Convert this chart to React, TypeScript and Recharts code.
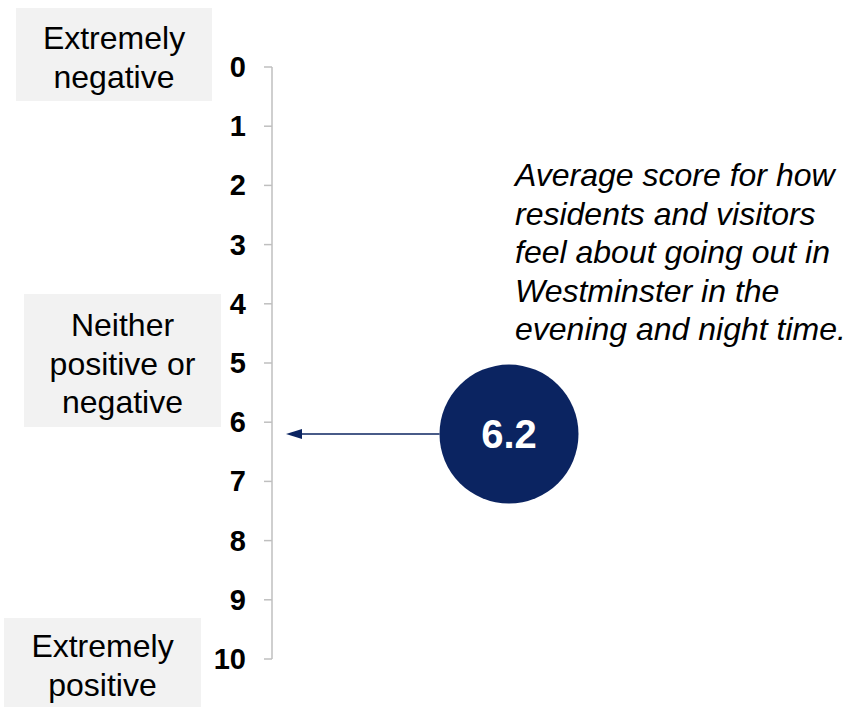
import { ComposedChart, Scatter, XAxis, YAxis } from 'recharts'

const SCALE_TICKS = [0, 1, 2, 3, 4, 5, 6, 7, 8, 9, 10]
const ANCHOR_VALUES = [0, 5, 10]
const ANCHOR_LINES = [
  ['Extremely', 'negative'],
  ['Neither', 'positive or', 'negative'],
  ['Extremely', 'positive'],
]
const SCORE_NAMES = ['Average score']
const SCORE_VALUES = [6.2]
const NOTE_LINES = [
  'Average score for how',
  'residents and visitors',
  'feel about going out in',
  'Westminster in the',
  'evening and night time.',
]

const FONT = '"Liberation Sans", Arial, Helvetica, sans-serif'
const NAVY = '#0B2461'
const GREY = '#BFBFBF'
const AXIS_W = 272

// box layout for the anchor labels, relative to the tick label x / tick y
const BOXES = [
  { dx: -230, w: 196, dy: -59, h: 93 },
  { dx: -222, w: 197, dy: -69, h: 133 },
  { dx: -242, w: 197, dy: -41, h: 89 },
]

const scoreData = SCORE_NAMES.map((name, i) => ({ name, score: SCORE_VALUES[i] }))

const ScaleTick = (props: any) => {
  const { x, y, payload } = props
  const idx = ANCHOR_VALUES.indexOf(payload.value)
  let anchor = null
  if (idx >= 0) {
    const b = BOXES[idx]
    const lines = ANCHOR_LINES[idx]
    const cx = x + b.dx + b.w / 2
    const cy = y + b.dy + b.h / 2 + 3
    anchor = (
      <g>
        <rect x={x + b.dx} y={y + b.dy} width={b.w} height={b.h} fill="#F2F2F2" />
        {lines.map((ln, i) => (
          <text
            key={i}
            x={cx}
            y={cy + (i - (lines.length - 1) / 2) * 38.4}
            textAnchor="middle"
            dominantBaseline="central"
            fontFamily={FONT}
            fontSize={32}
            fill="#000"
          >
            {ln}
          </text>
        ))}
      </g>
    )
  }
  return (
    <g>
      {anchor}
      <text
        x={x}
        y={y}
        textAnchor="end"
        dominantBaseline="central"
        fontFamily={FONT}
        fontSize={29}
        fontWeight="bold"
        fill="#000"
      >
        {payload.value}
      </text>
    </g>
  )
}

const ScoreBubble = (props: any) => {
  const { cx, cy, payload } = props
  const r = 69.5
  const tip = AXIS_W + 14
  return (
    <g>
      <line x1={cx - r} y1={cy} x2={tip + 12} y2={cy} stroke={NAVY} strokeWidth={1.5} />
      <path d={`M${tip},${cy} L${tip + 16},${cy - 5} L${tip + 16},${cy + 5} Z`} fill={NAVY} />
      <circle cx={cx} cy={cy} r={r} fill={NAVY} />
      <text
        x={cx}
        y={cy}
        textAnchor="middle"
        dominantBaseline="central"
        fontFamily={FONT}
        fontSize={40}
        fontWeight="bold"
        fill="#fff"
      >
        {payload.score}
      </text>
    </g>
  )
}

export default function App() {
  return (
    <div style={{ position: 'absolute', left: 0, top: 0, width: 849, height: 707, background: '#fff' }}>
      <ComposedChart
        width={849}
        height={707}
        data={scoreData}
        margin={{ top: 67, right: 103, bottom: 48, left: 0 }}
      >
        <XAxis dataKey="name" type="category" hide />
        <YAxis
          type="number"
          domain={[0, 10]}
          reversed
          ticks={SCALE_TICKS}
          interval={0}
          width={AXIS_W}
          tickSize={8}
          tickMargin={18}
          axisLine={{ stroke: GREY, strokeWidth: 1.5 }}
          tickLine={{ stroke: GREY, strokeWidth: 1.5 }}
          tick={<ScaleTick />}
        />
        <Scatter dataKey="score" shape={<ScoreBubble />} isAnimationActive={false} />
      </ComposedChart>
      <div
        style={{
          position: 'absolute',
          left: 515,
          top: 156,
          fontFamily: FONT,
          fontSize: 32,
          fontStyle: 'italic',
          lineHeight: '38.6px',
          color: '#000',
          whiteSpace: 'nowrap',
        }}
      >
        {NOTE_LINES.map((ln, i) => (
          <div key={i}>{ln}</div>
        ))}
      </div>
    </div>
  )
}
